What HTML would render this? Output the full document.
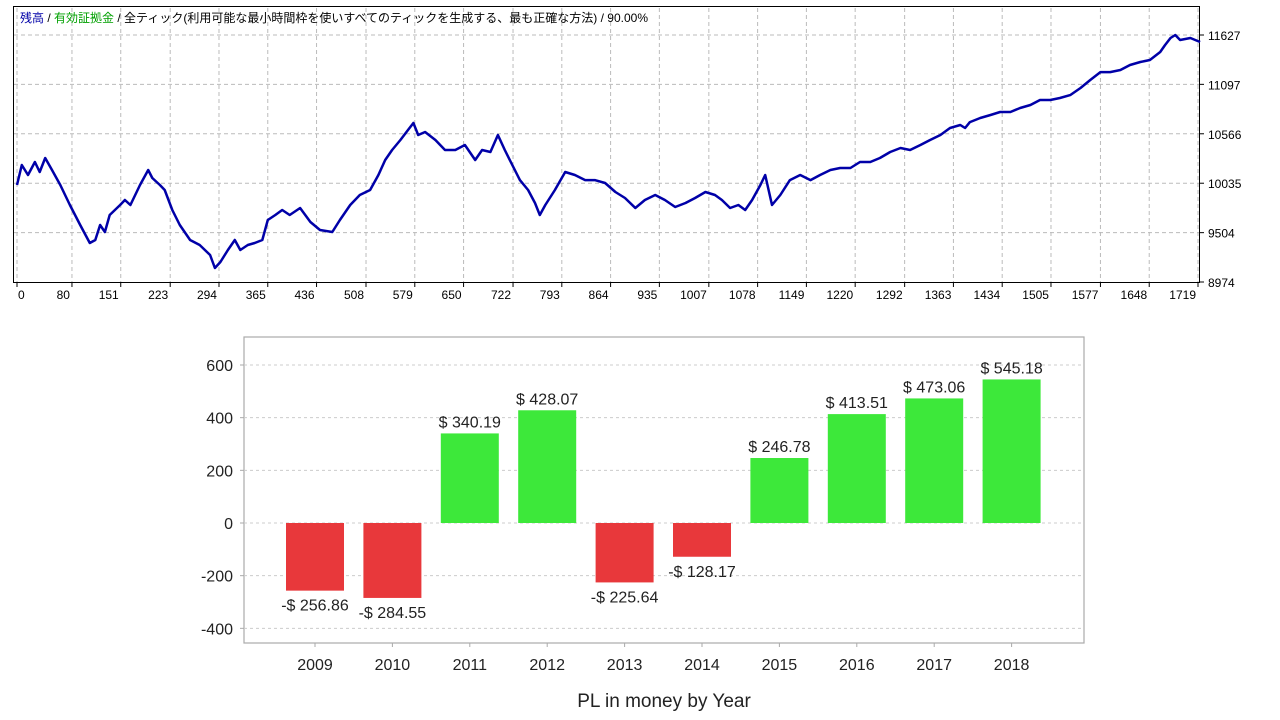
<!DOCTYPE html>
<html><head><meta charset="utf-8">
<style>
html,body{margin:0;padding:0;background:#fff;width:1280px;height:720px;overflow:hidden}
svg{display:block}
.t{font-family:"Liberation Sans","Noto Sans CJK JP",sans-serif}
</style></head>
<body>
<svg id="s" width="1280" height="720" xmlns="http://www.w3.org/2000/svg">
<g id="topchart"></g>
<g id="botchart"></g>
</svg>
<script>
// ---- balance chart data ----
const tradeNums=[0,7,16,26,33,41,51,63,77,92,106,114,121,128,135,150,157,165,179,191,197,208,215,226,237,252,266,281,288,296,307,317,325,336,346,357,365,376,386,397,412,427,441,459,470,485,499,514,526,536,546,558,569,577,584,594,609,623,638,652,667,677,689,700,710,721,732,744,754,761,769,783,798,812,827,841,856,871,885,900,914,929,943,958,973,987,1002,1016,1026,1038,1050,1060,1070,1082,1089,1099,1111,1125,1140,1155,1169,1184,1198,1213,1227,1242,1256,1271,1286,1300,1315,1329,1344,1358,1373,1380,1387,1402,1417,1431,1446,1460,1475,1489,1504,1518,1533,1548,1562,1577,1591,1606,1620,1635,1649,1664,1671,1679,1686,1693,1708,1722];
const balance=[10016,10231,10123,10263,10155,10306,10177,10016,9801,9586,9393,9425,9586,9511,9694,9801,9855,9801,10016,10177,10091,10016,9962,9747,9586,9425,9371,9264,9124,9189,9318,9425,9318,9371,9393,9425,9640,9694,9747,9694,9769,9618,9532,9511,9640,9801,9908,9962,10123,10284,10392,10499,10606,10682,10553,10585,10499,10392,10392,10445,10284,10392,10370,10553,10392,10231,10069,9962,9822,9694,9801,9962,10155,10123,10069,10069,10037,9941,9876,9769,9855,9908,9855,9780,9822,9876,9941,9908,9855,9769,9801,9747,9855,10016,10123,9801,9908,10069,10123,10069,10123,10177,10198,10198,10263,10263,10306,10370,10413,10392,10445,10499,10553,10628,10660,10628,10692,10735,10768,10800,10800,10843,10875,10929,10929,10950,10982,11058,11143,11229,11229,11251,11305,11337,11358,11444,11519,11595,11627,11573,11595,11552];
const xTickLabels=[0,80,151,223,294,365,436,508,579,650,722,793,864,935,1007,1078,1149,1220,1292,1363,1434,1505,1577,1648,1719];
const yTickLabels=[8974,9504,10035,10566,11097,11627];
// ---- PL chart data ----
const years=['2009','2010','2011','2012','2013','2014','2015','2016','2017','2018'];
const plValues=[-256.86,-284.55,340.19,428.07,-225.64,-128.17,246.78,413.51,473.06,545.18];
const plTicks=[-400,-200,0,200,400,600];

const NS='http://www.w3.org/2000/svg';
function mk(p,tag,a,txt){const e=document.createElementNS(NS,tag);for(const k in a)e.setAttribute(k,a[k]);if(txt!==undefined)e.textContent=txt;p.appendChild(e);return e;}

// ===== top chart =====
const topG=document.getElementById('topchart');
const L=17,R=1198,B=282;
const tx=t=>L+(t/1719)*(R-L);
const ty=v=>B-(v-8974)/(11627-8974)*(B-35);
const frame=mk(topG,'rect',{x:13.5,y:6.5,width:1186,height:276,fill:'#fff',stroke:'#000','stroke-width':1});


xTickLabels.forEach(v=>{
  const x=tx(v);
  const g=mk(topG,'line',{x1:x,y1:8,x2:x,y2:282,stroke:'#bbb','stroke-dasharray':'4,3'});
  
  
  mk(topG,'line',{x1:x,y1:282,x2:x,y2:287,stroke:'#000'});
  const lb=mk(topG,'text',{x:v===0?x+1:x-2,y:299,'text-anchor':v===0?'start':'end','font-size':12,class:'t',fill:'#000'},String(v));
  
  
});
yTickLabels.forEach(v=>{
  const y=ty(v);
  if(v!==8974){const g=mk(topG,'line',{x1:14,y1:y,x2:1199,y2:y,stroke:'#bbb','stroke-dasharray':'4,3'});
  
  }
  mk(topG,'line',{x1:1199,y1:y,x2:1204,y2:y,stroke:'#000'});
  const lb=mk(topG,'text',{x:1208,y:y+5,'font-size':12,class:'t',fill:'#000'},String(v));
  
  
});
let d='';
tradeNums.forEach((t,i)=>{d+=(i?'L':'M')+tx(t).toFixed(1)+','+ty(balance[i]).toFixed(1);});
const line=mk(topG,'path',{d:d,fill:'none',stroke:'#0000a8','stroke-width':2.5,'stroke-linejoin':'round'});


const title=mk(topG,'text',{x:20,y:22,'font-size':12,class:'t'});


mk(title,'tspan',{fill:'#0000a8'},'残高');
mk(title,'tspan',{fill:'#000'},' / ');
mk(title,'tspan',{fill:'#00a000'},'有効証拠金');
mk(title,'tspan',{fill:'#000'},' / 全ティック(利用可能な最小時間枠を使いすべてのティックを生成する、最も正確な方法) / 90.00%');

// ===== bottom chart =====
const botG=document.getElementById('botchart');
const PL=244,PR=1084,PT=337,PB=643;
const by=v=>523-v*(158/600);
const bx=i=>315+i*77.4;
const bf=mk(botG,'rect',{x:PL,y:PT,width:PR-PL,height:PB-PT,fill:'#fff',stroke:'#aaa','stroke-width':1.2});


plTicks.forEach(v=>{
  const y=by(v);
  const g=mk(botG,'line',{x1:PL,y1:y,x2:PR,y2:y,stroke:'#ccc','stroke-dasharray':'3,3'});
  
  
  mk(botG,'line',{x1:PL-4,y1:y,x2:PL,y2:y,stroke:'#aaa'});
  const lb=mk(botG,'text',{x:233,y:y+6,'text-anchor':'end','font-size':16,class:'t',fill:'#222'},String(v));
  
  
});
years.forEach((yr,i)=>{
  const v=plValues[i],x=bx(i),y0=by(0),y1=by(v);
  const r=mk(botG,'rect',{x:x-29,y:Math.min(y0,y1),width:58,height:Math.abs(y1-y0),fill:v>=0?'#3de83a':'#e8383b'});
  
  
  const lbl=(v<0?'-$ ':'$ ')+Math.abs(v).toFixed(2);
  const vl=mk(botG,'text',{x:x,y:v>=0?y1-6:y1+20,'text-anchor':'middle','font-size':16,class:'t',fill:'#222'},lbl);
  
  
  mk(botG,'line',{x1:x,y1:PB,x2:x,y2:PB+4,stroke:'#aaa'});
  const xl=mk(botG,'text',{x:x,y:670,'text-anchor':'middle','font-size':16,class:'t',fill:'#222'},yr);
  
  
});
const xt=mk(botG,'text',{x:664,y:707,'text-anchor':'middle','font-size':19,class:'t',fill:'#222'},'PL in money by Year');


</script>
</body></html>
